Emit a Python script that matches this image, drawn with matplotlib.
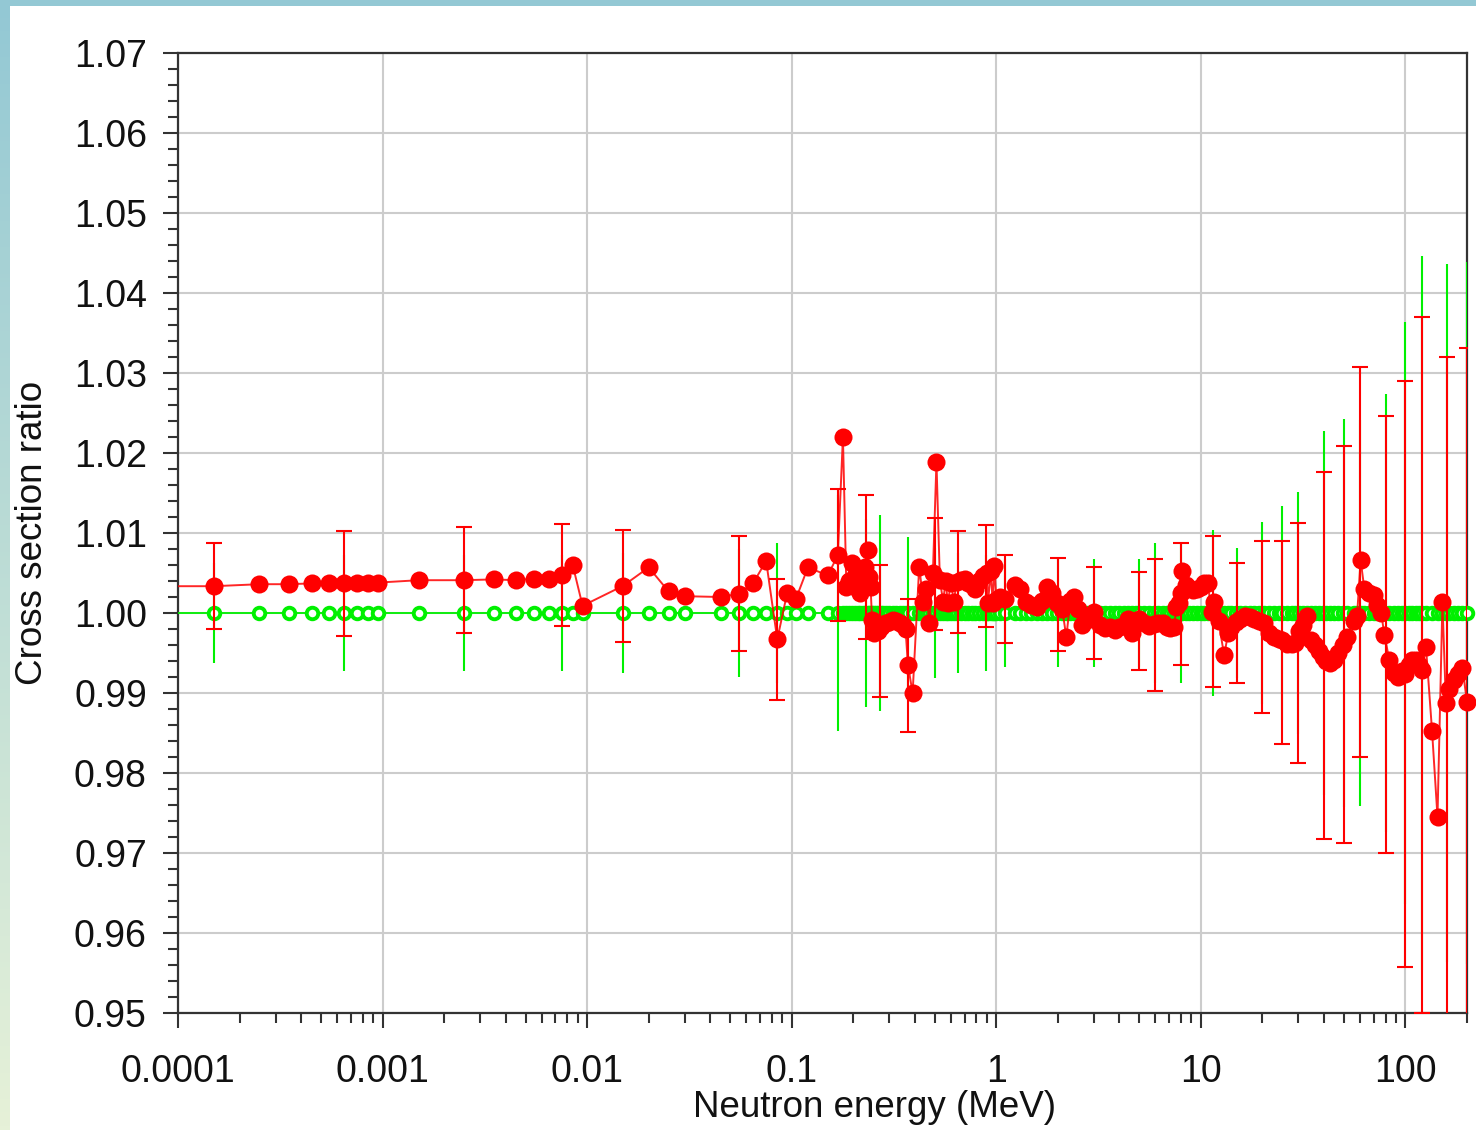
import numpy as np
import matplotlib
matplotlib.use("Agg")
import matplotlib.pyplot as plt
from matplotlib.ticker import FixedLocator, LogLocator, MultipleLocator, NullFormatter
from matplotlib.patches import Rectangle

plt.rcParams['font.family'] = ['Liberation Sans', 'DejaVu Sans']

# ---------------- data ----------------
energy = [
    5e-5, 1.5e-4, 2.5e-4, 3.5e-4, 4.5e-4, 5.5e-4, 6.5e-4, 7.5e-4, 8.5e-4, 9.5e-4,
    1.5e-3, 2.5e-3, 3.5e-3, 4.5e-3, 5.5e-3, 6.5e-3, 7.5e-3, 8.5e-3, 9.5e-3,
    0.015, 0.020, 0.025, 0.030, 0.045, 0.055, 0.065, 0.075, 0.085, 0.095, 0.105,
    0.120, 0.150, 0.168, 0.178, 0.185, 0.190, 0.197, 0.203, 0.210, 0.216, 0.222,
    0.229, 0.236, 0.240, 0.243, 0.247, 0.252, 0.258, 0.265, 0.272, 0.280, 0.290,
    0.300, 0.312, 0.325, 0.338, 0.350, 0.360, 0.370, 0.390, 0.420, 0.440, 0.455,
    0.470, 0.490, 0.510, 0.530, 0.550, 0.565, 0.580, 0.600, 0.620, 0.640, 0.670,
    0.700, 0.730, 0.760, 0.790, 0.820, 0.860, 0.900, 0.910, 0.940, 0.960, 0.980,
    1.000, 1.040, 1.100, 1.23, 1.30, 1.39, 1.48, 1.58, 1.68, 1.77, 1.88, 1.99,
    2.10, 2.20, 2.30, 2.40, 2.50, 2.62, 2.78, 2.90, 3.00, 3.20, 3.40, 3.60, 3.80,
    4.00, 4.20, 4.40, 4.60, 4.80, 5.00, 5.30, 5.60, 5.90, 6.20, 6.50, 6.80, 7.10,
    7.40, 7.60, 7.80, 8.00, 8.10, 8.50, 8.80, 9.20, 9.60, 10.0, 10.4, 10.8, 11.3,
    11.6, 12.2, 13.0, 13.6, 14.0, 14.8, 15.6, 16.5, 17.3, 18.2, 19.2, 20.3, 21.5,
    22.8, 24.0, 25.0, 26.5, 28.0, 29.0, 30.3, 31.5, 33.0, 34.5, 36.0, 37.8, 39.5,
    41.0, 43.0, 45.0, 47.0, 49.5, 52.0, 56.0, 58.0, 60.4, 63.0, 66.0, 70.0, 73.0,
    76.0, 79.0, 83.4, 88.0, 91.5, 96.0, 100.0, 104.0, 108.0, 113.0, 117.0, 121.0,
    126.0, 135.0, 143.5, 151.7, 157.7, 163.0, 173.0, 181.0, 190.0, 200.0,
]
red_ratio = [
    1.00335, 1.00335, 1.0036, 1.0036, 1.0037, 1.0037, 1.0037, 1.0038, 1.0038, 1.0038,
    1.0041, 1.0041, 1.0042, 1.0041, 1.0043, 1.0042, 1.00475, 1.0060, 1.0009,
    1.0034, 1.0057, 1.0027, 1.0021, 1.0020, 1.0024, 1.0038, 1.0065, 0.9967, 1.0025, 1.0018,
    1.0057, 1.0047, 1.0072, 1.0220, 1.0033, 1.0040, 1.0062, 1.0046, 1.0030, 1.0025, 1.0035,
    1.0058, 1.0079, 1.0045, 1.0033, 0.9991, 0.9975, 0.9980, 0.9978, 0.9983, 0.9986, 0.9988,
    0.9989, 0.9991, 0.9990, 0.9988, 0.9985, 0.9980, 0.9935, 0.9900, 1.0058, 1.0014, 1.0030,
    0.9987, 1.0050, 1.0189, 1.0041, 1.0014, 1.0040, 1.0013, 1.0038, 1.0014, 1.0039, 1.0041,
    1.0043, 1.0038, 1.0035, 1.0030, 1.0040, 1.0046, 1.0050, 1.0012, 1.0052, 1.0013, 1.0059,
    1.0016, 1.0020, 1.0018, 1.0035, 1.0030, 1.0014, 1.0010, 1.0008, 1.0015, 1.0033, 1.0025, 1.0013,
    1.0005, 0.9970, 1.0015, 1.0020, 1.0005, 0.9985, 0.9991, 0.9996, 1.0001, 0.9985, 0.9981, 0.9982, 0.9979,
    0.9983, 0.9984, 0.9993, 0.9975, 0.9990, 0.9992, 0.9988, 0.9984, 0.9986, 0.9988, 0.9987, 0.9983, 0.9981,
    0.9982, 1.0008, 1.0013, 1.0025, 1.0052, 1.0035, 1.0031, 1.0029, 1.0030, 1.0033, 1.0038, 1.0037, 1.0001,
    1.0014, 0.9990, 0.9947, 0.9975, 0.9983, 0.9989, 0.9993, 0.9996, 0.9995, 0.9993, 0.9990, 0.9988, 0.9975,
    0.9970, 0.9967, 0.9966, 0.9961, 0.9961, 0.9962, 0.9977, 0.9985, 0.9996, 0.9966, 0.9960, 0.9952, 0.9945,
    0.9940, 0.9938, 0.9941, 0.9950, 0.9960, 0.9970, 0.9990, 0.9996, 1.0066, 1.0030, 1.0025, 1.0022, 1.0010,
    1.0000, 0.9973, 0.9941, 0.9925, 0.9920, 0.9927, 0.9924, 0.9935, 0.9941, 0.9941, 0.9935, 0.9929,
    0.9958, 0.9852, 0.9745, 1.0014, 0.9887, 0.9905, 0.9916, 0.9924, 0.9931, 0.9889,
]
green_ratio = [1.0] * len(energy)

# error bars shown at selected energies
err_energy = [1.5e-4, 6.5e-4, 2.5e-3, 7.5e-3, 0.015, 0.055, 0.085, 0.168, 0.23, 0.27,
              0.37, 0.50, 0.65, 0.89, 1.1, 2.0, 3.0, 5.0, 6.0, 8.0, 11.5, 15.0, 20.0,
              25.0, 30.0, 40.0, 50.0, 60.0, 80.0, 100.0, 120.0, 160.0, 200.0]
err_red_center = [1.00335, 1.0037, 1.0041, 1.00475, 1.0034, 1.0024, 0.9967, 1.00725, 1.0058,
                  0.99775, 0.9934, 1.0049, 1.0039, 1.0046, 1.0018, 1.0011, 1.0000, 0.9990,
                  0.9985, 1.0011, 1.0002, 0.9988, 0.99825, 0.9963, 0.9963, 0.99469, 0.99604,
                  1.0064, 0.9973, 0.9924, 0.9935, 0.9890, 0.9887]
err_red = [0.0054, 0.0066, 0.0066, 0.0064, 0.0070, 0.0072, 0.0076, 0.0083, 0.0090, 0.0082,
           0.0083, 0.0070, 0.0064, 0.0064, 0.0055, 0.0058, 0.0058, 0.0061, 0.0082, 0.0076,
           0.0094, 0.0075, 0.0107, 0.0127, 0.0150, 0.0229, 0.0248, 0.0244, 0.0273, 0.0366,
           0.0435, 0.0430, 0.0444]
err_green = [0.0062, 0.0072, 0.0072, 0.0072, 0.0075, 0.0080, 0.0088, 0.0148, 0.0117, 0.0122,
             0.0095, 0.0081, 0.0075, 0.0073, 0.0067, 0.0067, 0.0067, 0.0068, 0.0088, 0.0087,
             0.0104, 0.0081, 0.0114, 0.0134, 0.0151, 0.0227, 0.0243, 0.0241, 0.0274, 0.0364,
             0.0446, 0.0436, 0.0439]

xtick_vals = [1e-4, 1e-3, 1e-2, 1e-1, 1, 10, 100]
xtick_labels = ['0.0001', '0.001', '0.01', '0.1', '1', '10', '100']
ytick_vals = [0.95, 0.96, 0.97, 0.98, 0.99, 1.00, 1.01, 1.02, 1.03, 1.04, 1.05, 1.06, 1.07]

RED = '#ff0000'
GREEN = '#00f000'

# ---------------- figure ----------------
W, H = 1476, 1130
fig = plt.figure(figsize=(W / 100, H / 100), dpi=100, facecolor='white')

# decorative frame: teal top strip and gradient left strip
fig.patches.append(Rectangle((0, 1 - 6 / H), 1, 6 / H, transform=fig.transFigure,
                             facecolor='#93c8d4', edgecolor='none', zorder=0))
gax = fig.add_axes([0, 0, 10 / W, 1])
top_c = np.array([0x93, 0xc8, 0xd4]) / 255
bot_c = np.array([0xe6, 0xf1, 0xd8]) / 255
t = np.linspace(0, 1, 256)[:, None]
grad = (top_c[None, :] * (1 - t) + bot_c[None, :] * t)[:, None, :]
gax.imshow(grad, aspect='auto', extent=[0, 1, 0, 1])
gax.axis('off')

ax = fig.add_axes([178 / W, 1 - 1013 / H, (1467 - 178) / W, (1013 - 53) / H])
ax.set_xscale('log')

E = np.array(energy)
R = np.array(red_ratio)
G = np.array(green_ratio)
vis = E >= 1e-4

# green (reference) series
ax.errorbar(err_energy, np.ones(len(err_energy)), yerr=err_green, fmt='none',
            ecolor=GREEN, elinewidth=1.5, capsize=0, zorder=3)
ax.plot(E, G, '-', color=GREEN, lw=1.3, zorder=4)
ax.plot(E[vis], G[vis], 'o', ms=8.3, mfc='white', mec=GREEN, mew=2.8,
        clip_on=False, zorder=4)

# red series
ax.errorbar(err_energy, err_red_center, yerr=err_red, fmt='none', ecolor=RED,
            elinewidth=1.5, capsize=6, capthick=1.5, zorder=5)
ax.plot(E, R, '-', color=RED, lw=1.4, alpha=0.85, zorder=6)
ax.plot(E[vis], R[vis], 'o', ms=13, mfc=RED, mec=RED, mew=0, clip_on=False, zorder=7)

ax.set_xlim(1e-4, 200)
ax.set_ylim(0.95, 1.07)

ax.xaxis.set_major_locator(FixedLocator(xtick_vals))
ax.set_xticklabels(xtick_labels)
ax.xaxis.set_minor_locator(LogLocator(base=10, subs=np.arange(2, 10), numticks=50))
ax.xaxis.set_minor_formatter(NullFormatter())
ax.yaxis.set_major_locator(FixedLocator(ytick_vals))
ax.set_yticklabels([f'{v:.2f}' for v in ytick_vals])
ax.yaxis.set_minor_locator(MultipleLocator(0.002))

ax.tick_params(which='major', direction='out', length=10.5, width=1.5, color='#333333',
               labelsize=27, labelcolor='#111111')
ax.tick_params(axis='y', which='major', pad=12)
ax.tick_params(axis='x', which='major', pad=19)
ax.tick_params(which='minor', direction='out', length=7, width=1.5, color='#333333')
ax.tick_params(axis='y', which='both', right=False)
ax.tick_params(axis='x', which='both', top=False)

ax.grid(True, which='major', color='#cccccc', lw=1.5, zorder=0)
ax.set_axisbelow(True)
for s in ax.spines.values():
    s.set_color('#333333')
    s.set_linewidth(1.6)
    s.set_zorder(2.5)

ax.text(0.54, -0.080, 'Neutron energy (MeV)', transform=ax.transAxes, ha='center',
        va='top', fontsize=26.5, color='#111111')
ax.text(-0.1125, 0.5, 'Cross section ratio', transform=ax.transAxes, ha='center',
        va='center', rotation=90, fontsize=26.5, color='#111111')

fig.savefig('out.png', dpi=100, facecolor='white')
